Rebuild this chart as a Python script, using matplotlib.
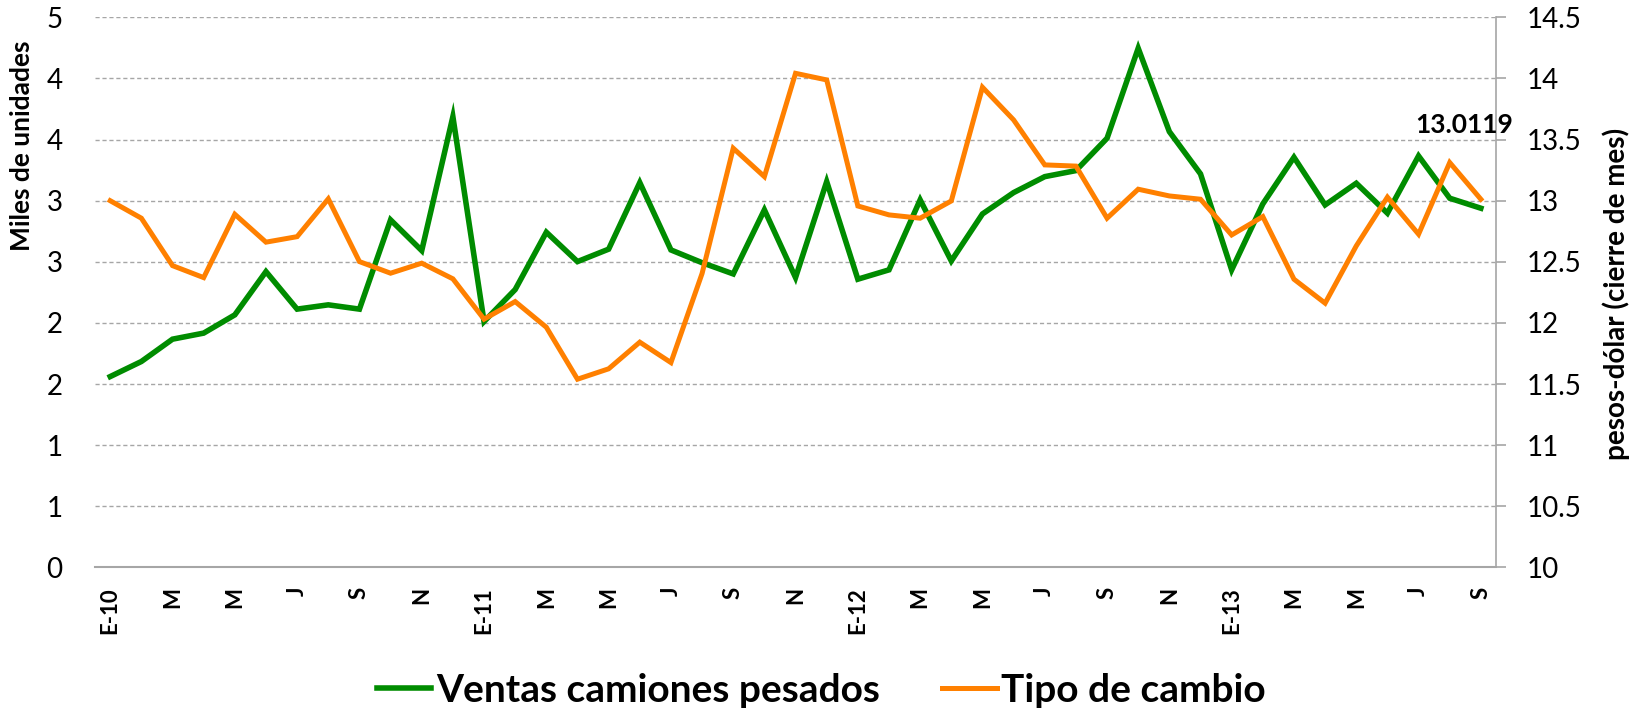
import numpy as np
import matplotlib
matplotlib.use("Agg")
from matplotlib import pyplot as plt
from matplotlib.ticker import FuncFormatter

plt.rcParams['font.family'] = ['Lato', 'DejaVu Sans']

# ventas camiones pesados (miles de unidades), ene-2010 .. sep-2013
ventas = [1.735, 1.872, 2.075, 2.13, 2.296, 2.689, 2.348, 2.387, 2.348, 3.159,
          2.88, 4.097, 2.235, 2.526, 3.047, 2.78, 2.893, 3.498, 2.886, 2.77,
          2.668, 3.25, 2.635, 3.507, 2.62, 2.705, 3.341, 2.786, 3.213, 3.407,
          3.552, 3.607, 3.901, 4.719, 3.961, 3.577, 2.705, 3.304, 3.728, 3.295,
          3.492, 3.22, 3.74, 3.356, 3.265]

# tipo de cambio pesos-dolar (cierre de mes)
tipo = [13.00, 12.857, 12.469, 12.371, 12.889, 12.661, 12.706, 13.015, 12.502, 12.407,
        12.489, 12.361, 12.031, 12.175, 11.965, 11.54, 11.625, 11.843, 11.676, 12.405,
        13.429, 13.197, 14.042, 13.988, 12.957, 12.884, 12.857, 12.998, 13.928, 13.661,
        13.293, 13.283, 12.857, 13.094, 13.039, 13.012, 12.72, 12.87, 12.358, 12.162,
        12.63, 13.029, 12.726, 13.312, 13.0119]

etiquetas = ["E-10", "M", "M", "J", "S", "N",
             "E-11", "M", "M", "J", "S", "N",
             "E-12", "M", "M", "J", "S", "N",
             "E-13", "M", "M", "J", "S"]

verde = "#008C00"
naranja = "#FF8000"
gris = "#A6A6A6"

x = np.arange(len(ventas))

fig = plt.figure(figsize=(16.43, 7.13), dpi=100)
ax1 = fig.add_axes([0.0576, 0.2041, 0.9108 - 0.0576, 0.9757 - 0.2041])
ax2 = ax1.twinx()

l1, = ax1.plot(x, ventas, color=verde, lw=4.0, solid_joinstyle='miter', label="Ventas camiones pesados")
l2, = ax2.plot(x, tipo, color=naranja, lw=3.6, solid_joinstyle='miter', label="Tipo de cambio")

ax1.set_xlim(-0.5, len(ventas) - 0.5)
ax1.set_ylim(0, 5)
ax1.set_yticks(np.linspace(0, 5, 10))
ax1.yaxis.set_major_formatter(FuncFormatter(lambda v, p: f"{v:.0f}"))
ax2.set_ylim(10, 14.5)
ax2.set_yticks(np.arange(10, 14.51, 0.5))
ax2.yaxis.set_major_formatter(FuncFormatter(lambda v, p: f"{v:g}"))

ax1.set_xticks(x[::2])
ax1.set_xticklabels(etiquetas, rotation=90, fontsize=16, fontweight='bold', va='top')

ax1.yaxis.grid(True, linestyle=(0, (3, 2)), color=gris, linewidth=1)
ax1.set_axisbelow(True)

for a in (ax1, ax2):
    for s in a.spines.values():
        s.set_visible(False)
ax1.spines['bottom'].set_visible(True)
ax1.spines['bottom'].set_color(gris)
ax1.spines['bottom'].set_linewidth(1.5)
ax2.spines['right'].set_visible(True)
ax2.spines['right'].set_color(gris)
ax2.spines['right'].set_linewidth(1.2)

ax1.tick_params(axis='y', length=0, pad=23, labelsize=20)
ax1.tick_params(axis='x', length=0, pad=14)
ax2.tick_params(axis='y', length=7, width=1.2, color=gris, pad=15, labelsize=20)

fig.text(22.5 / 1643, 1 - 146 / 713, "Miles de unidades", rotation=90,
         ha='center', va='center', fontsize=19, fontweight='bold')
fig.text(1616 / 1643, 1 - 293.5 / 713, "pesos-dólar (cierre de mes)", rotation=90,
         ha='center', va='center', fontsize=20, fontweight='bold')

ax2.annotate(f"{tipo[-1]:.4f}", xy=(x[-1], tipo[-1]), xytext=(-17, 66),
             textcoords='offset pixels', ha='center', va='baseline',
             fontsize=19, fontweight='bold')

fig.legend(handles=[l1, l2], loc='center', bbox_to_anchor=(0.5, 1 - 690 / 713),
           ncol=2, frameon=False, prop={'size': 28, 'weight': 'bold'},
           handlelength=1.4, handletextpad=0.12, columnspacing=1.6)

fig.savefig("out.png", dpi=100)
